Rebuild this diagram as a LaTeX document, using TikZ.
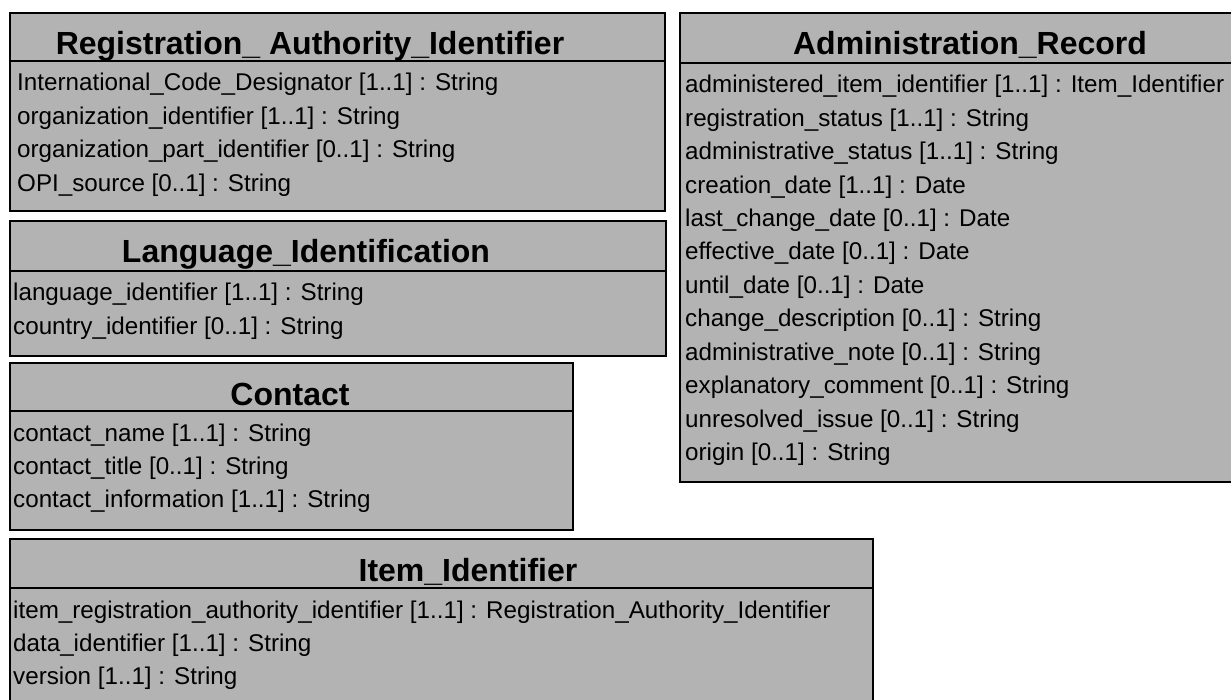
\documentclass[tikz,border=0pt]{standalone}
\usepackage{fontspec}
\setmainfont{Liberation Sans}
\usetikzlibrary{positioning}

\definecolor{boxgray}{RGB}{179,179,179}
\tikzset{
  classbox/.style={draw=black, fill=boxgray, line width=1.6pt},
  classtitle/.style={font=\fontsize{32}{32}\selectfont\bfseries, anchor=base, inner sep=0pt},
  attr/.style={font=\fontsize{24.2}{25}\selectfont, anchor=base west, inner sep=0pt}
}

\begin{document}
\begin{tikzpicture}[x=1pt,y=-1pt]
  \useasboundingbox (0,0) rectangle (1231,700);
  \begin{scope}
    \clip (0,0) rectangle (1231,700);
    % class boxes with header line
    \draw[classbox] (10,13) rectangle (665,211);
    \draw[line width=1.6pt] (10,61)--(665,61);
    \draw[classbox] (10,221) rectangle (666,356);
    \draw[line width=1.6pt] (10,271)--(666,271);
    \draw[classbox] (10,363) rectangle (573,530);
    \draw[line width=1.6pt] (10,411)--(573,411);
    \draw[classbox] (10,539) rectangle (873,720);
    \draw[line width=1.6pt] (10,588)--(873,588);
    \draw[classbox] (680,13) rectangle (1260,482);
    \draw[line width=1.6pt] (680,63)--(1260,63);
  \end{scope}

  \node[classtitle] (regtitle) at (310,55) {Registration\_ Authority\_Identifier};
  \node[classtitle] (langtitle) at (306,263) {Language\_Identification};
  \node[classtitle] (contitle) at (290,405) {Contact};
  \node[classtitle] (itemtitle) at (468,581) {Item\_Identifier};
  \node[classtitle] (admintitle) at (970,55) {Administration\_Record};

  \foreach \t [count=\i] in {{International\_Code\_Designator [1..1] : String},
      {organization\_identifier [1..1] : String},
      {organization\_part\_identifier [0..1] : String},
      {OPI\_source [0..1] : String}}
    \node[attr] (reg-\i) at (17,{91+33.4*(\i-1)}) {\t};

  \foreach \t [count=\i] in {{language\_identifier [1..1] : String},
      {country\_identifier [0..1] : String}}
    \node[attr] (lang-\i) at (13,{301+33.4*(\i-1)}) {\t};

  \foreach \t [count=\i] in {{contact\_name [1..1] : String},
      {contact\_title [0..1] : String},
      {contact\_information [1..1] : String}}
    \node[attr] (con-\i) at (13,{441+33.4*(\i-1)}) {\t};

  \foreach \t [count=\i] in {{item\_registration\_authority\_identifier [1..1] : Registration\_Authority\_Identifier},
      {data\_identifier [1..1] : String},
      {version [1..1] : String}}
    \node[attr] (item-\i) at (13,{618+33.4*(\i-1)}) {\t};

  \foreach \t [count=\i] in {{administered\_item\_identifier [1..1] : Item\_Identifier},
      {registration\_status [1..1] : String},
      {administrative\_status [1..1] : String},
      {creation\_date [1..1] : Date},
      {last\_change\_date [0..1] : Date},
      {effective\_date [0..1] : Date},
      {until\_date [0..1] : Date},
      {change\_description [0..1] : String},
      {administrative\_note [0..1] : String},
      {explanatory\_comment [0..1] : String},
      {unresolved\_issue [0..1] : String},
      {origin [0..1] : String}}
    \node[attr] (admin-\i) at (685,{93+33.4*(\i-1)}) {\t};
\end{tikzpicture}
\end{document}
